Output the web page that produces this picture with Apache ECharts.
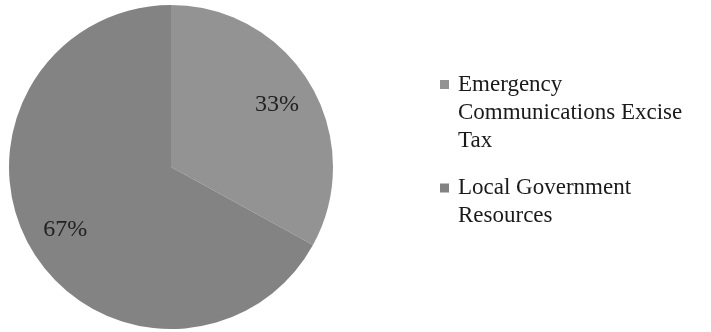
<!DOCTYPE html>
<html>
<head>
<meta charset="utf-8">
<script src="https://cdn.jsdelivr.net/npm/echarts@6/dist/echarts.min.js"></script>
<style>
html,body{margin:0;padding:0;background:#fff;}
#main{width:711px;height:332px;}
</style>
</head>
<body>
<div id="main"></div>
<script>
var categories = ['Emergency Communications Excise Tax', 'Local Government Resources'];
var legendLines = [['Emergency', 'Communications Excise', 'Tax'], ['Local Government', 'Resources']];
var shares = [33, 67];
var sliceColors = ['#939393', '#838383'];

var FONT = 'Liberation Serif';
var LH = 28;
var pieData = categories.map(function (c, i) {
  return { name: c, value: shares[i], itemStyle: { color: sliceColors[i] } };
});
var labelData = categories.map(function (c, i) {
  return { name: c, value: shares[i] };
});

function makeLegend(i, top) {
  var lines = legendLines[i];
  var pad = [];
  for (var k = 0; k < lines.length - 1; k++) pad.push(' ');
  var text = pad.concat(lines).join('\n');
  return {
    data: [categories[i]],
    orient: 'vertical',
    left: 440,
    top: top,
    padding: 0,
    icon: 'rect',
    itemWidth: 9,
    itemHeight: 9,
    selectedMode: false,
    formatter: function () { return text; },
    textStyle: {
      fontFamily: FONT,
      fontSize: 23,
      color: '#1a1a1a',
      lineHeight: LH,
      padding: [0, 0, 0, 4]
    }
  };
}

var chart = echarts.init(document.getElementById('main'), null, { renderer: 'canvas' });
chart.setOption({
  animation: false,
  backgroundColor: '#ffffff',
  legend: [makeLegend(0, 14.5), makeLegend(1, 146)],
  series: [
    {
      type: 'pie',
      center: [171, 167],
      radius: [0, 162],
      startAngle: 90,
      clockwise: true,
      silent: true,
      label: { show: false },
      labelLine: { show: false },
      data: pieData
    },
    {
      type: 'pie',
      center: [171, 167],
      radius: [78, 162],
      startAngle: 90,
      clockwise: true,
      silent: true,
      itemStyle: { color: 'rgba(0,0,0,0)' },
      label: {
        show: true,
        position: 'inside',
        formatter: '{d}%',
        fontFamily: FONT,
        fontSize: 24,
        color: '#222222'
      },
      labelLine: { show: false },
      data: labelData
    }
  ]
});
</script>
</body>
</html>
